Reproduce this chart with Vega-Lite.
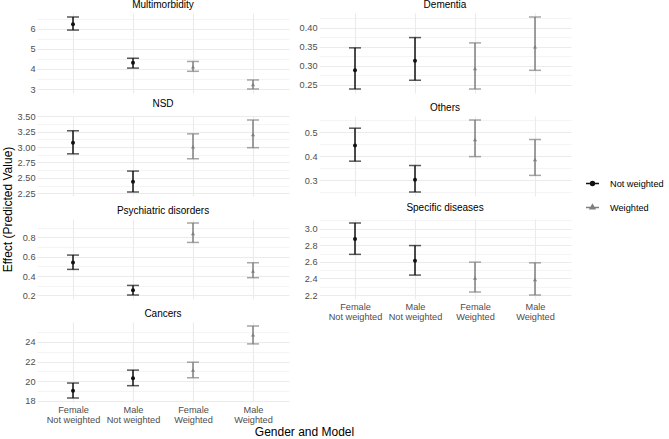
{
  "$schema": "https://vega.github.io/schema/vega-lite/v6.json",
  "padding": {"left": 1, "top": 0, "right": 4, "bottom": 2},
  "bounds": "flush",
  "columns": 2,
  "spacing": {"row": 23, "column": 30},
  "data": {"values": [
    {"panel": "Multimorbidity", "grp": "Female Not weighted", "model": "Not weighted", "est": 6.22, "lo": 5.93, "hi": 6.58},
    {"panel": "Multimorbidity", "grp": "Male Not weighted", "model": "Not weighted", "est": 4.3, "lo": 4.04, "hi": 4.53},
    {"panel": "Multimorbidity", "grp": "Female Weighted", "model": "Weighted", "est": 4.1, "lo": 3.88, "hi": 4.37},
    {"panel": "Multimorbidity", "grp": "Male Weighted", "model": "Weighted", "est": 3.22, "lo": 3.0, "hi": 3.45},
    {"panel": "Dementia", "grp": "Female Not weighted", "model": "Not weighted", "est": 0.288, "lo": 0.239, "hi": 0.347},
    {"panel": "Dementia", "grp": "Male Not weighted", "model": "Not weighted", "est": 0.313, "lo": 0.262, "hi": 0.374},
    {"panel": "Dementia", "grp": "Female Weighted", "model": "Weighted", "est": 0.293, "lo": 0.239, "hi": 0.36},
    {"panel": "Dementia", "grp": "Male Weighted", "model": "Weighted", "est": 0.35, "lo": 0.288, "hi": 0.428},
    {"panel": "NSD", "grp": "Female Not weighted", "model": "Not weighted", "est": 3.07, "lo": 2.89, "hi": 3.265},
    {"panel": "NSD", "grp": "Male Not weighted", "model": "Not weighted", "est": 2.435, "lo": 2.27, "hi": 2.61},
    {"panel": "NSD", "grp": "Female Weighted", "model": "Weighted", "est": 3.005, "lo": 2.81, "hi": 3.215},
    {"panel": "NSD", "grp": "Male Weighted", "model": "Weighted", "est": 3.205, "lo": 2.99, "hi": 3.44},
    {"panel": "Others", "grp": "Female Not weighted", "model": "Not weighted", "est": 0.444, "lo": 0.379, "hi": 0.516},
    {"panel": "Others", "grp": "Male Not weighted", "model": "Not weighted", "est": 0.302, "lo": 0.251, "hi": 0.361},
    {"panel": "Others", "grp": "Female Weighted", "model": "Weighted", "est": 0.469, "lo": 0.398, "hi": 0.55},
    {"panel": "Others", "grp": "Male Weighted", "model": "Weighted", "est": 0.386, "lo": 0.32, "hi": 0.469},
    {"panel": "Psychiatric disorders", "grp": "Female Not weighted", "model": "Not weighted", "est": 0.541, "lo": 0.469, "hi": 0.617},
    {"panel": "Psychiatric disorders", "grp": "Male Not weighted", "model": "Not weighted", "est": 0.252, "lo": 0.204, "hi": 0.303},
    {"panel": "Psychiatric disorders", "grp": "Female Weighted", "model": "Weighted", "est": 0.841, "lo": 0.748, "hi": 0.949},
    {"panel": "Psychiatric disorders", "grp": "Male Weighted", "model": "Weighted", "est": 0.452, "lo": 0.383, "hi": 0.538},
    {"panel": "Specific diseases", "grp": "Female Not weighted", "model": "Not weighted", "est": 2.876, "lo": 2.69, "hi": 3.068},
    {"panel": "Specific diseases", "grp": "Male Not weighted", "model": "Not weighted", "est": 2.612, "lo": 2.44, "hi": 2.796},
    {"panel": "Specific diseases", "grp": "Female Weighted", "model": "Weighted", "est": 2.404, "lo": 2.236, "hi": 2.596},
    {"panel": "Specific diseases", "grp": "Male Weighted", "model": "Weighted", "est": 2.388, "lo": 2.2, "hi": 2.588},
    {"panel": "Cancers", "grp": "Female Not weighted", "model": "Not weighted", "est": 19.02, "lo": 18.27, "hi": 19.8},
    {"panel": "Cancers", "grp": "Male Not weighted", "model": "Not weighted", "est": 20.3, "lo": 19.53, "hi": 21.12},
    {"panel": "Cancers", "grp": "Female Weighted", "model": "Weighted", "est": 21.12, "lo": 20.34, "hi": 21.93},
    {"panel": "Cancers", "grp": "Male Weighted", "model": "Weighted", "est": 24.74, "lo": 23.8, "hi": 25.63}
  ]},
  "concat": [
    {
      "title": "Multimorbidity", "width": 252, "height": 80,
      "transform": [{"filter": "datum.panel === 'Multimorbidity'"}],
      "encoding": {"x": {"field": "grp", "type": "nominal", "sort": ["Female Not weighted", "Male Not weighted", "Female Weighted", "Male Weighted"], "scale": {"type": "point", "padding": 0.6}, "axis": {"title": null, "labels": false, "grid": true, "gridWidth": 1.1}}},
      "layer": [
        {"mark": {"type": "errorbar", "ticks": {"size": 12}, "thickness": 1.5},
         "encoding": {"y": {"field": "lo", "type": "quantitative", "scale": {"zero": false, "nice": false, "padding": 4}, "axis": {"title": null, "tickCount": 100, "values": [3, 3.5, 4, 4.5, 5, 5.5, 6, 6.5], "labelExpr": "abs(datum.value - round(datum.value)) < 0.001 ? format(datum.value, '.0f') : ''", "gridWidth": {"condition": {"test": "abs(datum.value - round(datum.value)) < 0.001", "value": 1.1}, "value": 0.55}}}, "y2": {"field": "hi"},
           "color": {"field": "model", "type": "nominal", "title": null, "scale": {"domain": ["Not weighted", "Weighted"], "range": ["#111111", "#7f7f7f"]},
             "legend": {"title": null, "orient": "none", "legendX": 548, "legendY": 163, "encode": {"symbols": {"update": {"shape": {"signal": "datum.value === 'Weighted' ? 'M-1,0H1M0,-0.42L0.36,0.21L-0.36,0.21Z' : 'M-1,0H1M0.3,0A0.3,0.3 0 1 1 -0.3,0A0.3,0.3 0 1 1 0.3,0Z'"}}}}}}}},
        {"mark": {"type": "point", "filled": true, "size": 16, "opacity": 1},
         "encoding": {"y": {"field": "est", "type": "quantitative", "axis": {"title": null}}, "color": {"field": "model", "type": "nominal"}, "shape": {"condition": {"test": "datum.model === 'Weighted'", "value": "triangle-up"}, "value": "circle"}}}
      ]
    },
    {
      "title": "Dementia", "width": 252, "height": 80,
      "transform": [{"filter": "datum.panel === 'Dementia'"}],
      "encoding": {"x": {"field": "grp", "type": "nominal", "sort": ["Female Not weighted", "Male Not weighted", "Female Weighted", "Male Weighted"], "scale": {"type": "point", "padding": 0.6}, "axis": {"title": null, "labels": false, "grid": true, "gridWidth": 1.1}}},
      "layer": [
        {"mark": {"type": "errorbar", "ticks": {"size": 12}, "thickness": 1.5},
         "encoding": {"y": {"field": "lo", "type": "quantitative", "scale": {"zero": false, "nice": false, "padding": 4}, "axis": {"title": null, "tickCount": 100, "values": [0.25, 0.275, 0.3, 0.325, 0.35, 0.375, 0.4, 0.425], "labelExpr": "abs(datum.value/0.05 - round(datum.value/0.05)) < 0.001 ? format(datum.value, '.2f') : ''", "gridWidth": {"condition": {"test": "abs(datum.value/0.05 - round(datum.value/0.05)) < 0.001", "value": 1.1}, "value": 0.55}}}, "y2": {"field": "hi"},
           "color": {"field": "model", "type": "nominal"}}},
        {"mark": {"type": "point", "filled": true, "size": 16, "opacity": 1},
         "encoding": {"y": {"field": "est", "type": "quantitative", "axis": {"title": null}}, "color": {"field": "model", "type": "nominal"}, "shape": {"condition": {"test": "datum.model === 'Weighted'", "value": "triangle-up"}, "value": "circle"}}}
      ]
    },
    {
      "title": "NSD", "width": 252, "height": 80,
      "transform": [{"filter": "datum.panel === 'NSD'"}],
      "encoding": {"x": {"field": "grp", "type": "nominal", "sort": ["Female Not weighted", "Male Not weighted", "Female Weighted", "Male Weighted"], "scale": {"type": "point", "padding": 0.6}, "axis": {"title": null, "labels": false, "grid": true, "gridWidth": 1.1}}},
      "layer": [
        {"mark": {"type": "errorbar", "ticks": {"size": 12}, "thickness": 1.5},
         "encoding": {"y": {"field": "lo", "type": "quantitative", "scale": {"zero": false, "nice": false, "padding": 4}, "axis": {"title": "Effect (Predicted Value)", "titleFontSize": 12, "titleFontWeight": "normal", "titleColor": "black", "titleY": 93, "titlePadding": 3, "tickCount": 100, "values": [2.25, 2.375, 2.5, 2.625, 2.75, 2.875, 3, 3.125, 3.25, 3.375, 3.5], "labelExpr": "abs(datum.value/0.25 - round(datum.value/0.25)) < 0.001 ? format(datum.value, '.2f') : ''", "gridWidth": {"condition": {"test": "abs(datum.value/0.25 - round(datum.value/0.25)) < 0.001", "value": 1.1}, "value": 0.55}}}, "y2": {"field": "hi"},
           "color": {"field": "model", "type": "nominal"}}},
        {"mark": {"type": "point", "filled": true, "size": 16, "opacity": 1},
         "encoding": {"y": {"field": "est", "type": "quantitative"}, "color": {"field": "model", "type": "nominal"}, "shape": {"condition": {"test": "datum.model === 'Weighted'", "value": "triangle-up"}, "value": "circle"}}}
      ]
    },
    {
      "title": "Others", "width": 252, "height": 80,
      "transform": [{"filter": "datum.panel === 'Others'"}],
      "encoding": {"x": {"field": "grp", "type": "nominal", "sort": ["Female Not weighted", "Male Not weighted", "Female Weighted", "Male Weighted"], "scale": {"type": "point", "padding": 0.6}, "axis": {"title": null, "labels": false, "grid": true, "gridWidth": 1.1}}},
      "layer": [
        {"mark": {"type": "errorbar", "ticks": {"size": 12}, "thickness": 1.5},
         "encoding": {"y": {"field": "lo", "type": "quantitative", "scale": {"zero": false, "nice": false, "padding": 4}, "axis": {"title": null, "tickCount": 100, "values": [0.25, 0.3, 0.35, 0.4, 0.45, 0.5, 0.55], "labelExpr": "abs(datum.value/0.1 - round(datum.value/0.1)) < 0.001 ? format(datum.value, '.1f') : ''", "gridWidth": {"condition": {"test": "abs(datum.value/0.1 - round(datum.value/0.1)) < 0.001", "value": 1.1}, "value": 0.55}}}, "y2": {"field": "hi"},
           "color": {"field": "model", "type": "nominal"}}},
        {"mark": {"type": "point", "filled": true, "size": 16, "opacity": 1},
         "encoding": {"y": {"field": "est", "type": "quantitative", "axis": {"title": null}}, "color": {"field": "model", "type": "nominal"}, "shape": {"condition": {"test": "datum.model === 'Weighted'", "value": "triangle-up"}, "value": "circle"}}}
      ]
    },
    {
      "title": "Psychiatric disorders", "width": 252, "height": 80,
      "transform": [{"filter": "datum.panel === 'Psychiatric disorders'"}],
      "encoding": {"x": {"field": "grp", "type": "nominal", "sort": ["Female Not weighted", "Male Not weighted", "Female Weighted", "Male Weighted"], "scale": {"type": "point", "padding": 0.6}, "axis": {"title": null, "labels": false, "grid": true, "gridWidth": 1.1}}},
      "layer": [
        {"mark": {"type": "errorbar", "ticks": {"size": 12}, "thickness": 1.5},
         "encoding": {"y": {"field": "lo", "type": "quantitative", "scale": {"zero": false, "nice": false, "padding": 4}, "axis": {"title": null, "tickCount": 100, "values": [0.2, 0.3, 0.4, 0.5, 0.6, 0.7, 0.8, 0.9], "labelExpr": "abs(datum.value/0.2 - round(datum.value/0.2)) < 0.001 ? format(datum.value, '.1f') : ''", "gridWidth": {"condition": {"test": "abs(datum.value/0.2 - round(datum.value/0.2)) < 0.001", "value": 1.1}, "value": 0.55}}}, "y2": {"field": "hi"},
           "color": {"field": "model", "type": "nominal"}}},
        {"mark": {"type": "point", "filled": true, "size": 16, "opacity": 1},
         "encoding": {"y": {"field": "est", "type": "quantitative", "axis": {"title": null}}, "color": {"field": "model", "type": "nominal"}, "shape": {"condition": {"test": "datum.model === 'Weighted'", "value": "triangle-up"}, "value": "circle"}}}
      ]
    },
    {
      "title": "Specific diseases", "width": 252, "height": 80,
      "transform": [{"filter": "datum.panel === 'Specific diseases'"}],
      "encoding": {"x": {"field": "grp", "type": "nominal", "sort": ["Female Not weighted", "Male Not weighted", "Female Weighted", "Male Weighted"], "scale": {"type": "point", "padding": 0.6}, "axis": {"title": null, "labels": true, "labelAngle": 0, "labelExpr": "[slice(datum.label, 0, indexof(datum.label, ' ')), slice(datum.label, indexof(datum.label, ' ') + 1)]", "labelLineHeight": 10.5, "labelPadding": 3, "grid": true, "gridWidth": 1.1}}},
      "layer": [
        {"mark": {"type": "errorbar", "ticks": {"size": 12}, "thickness": 1.5},
         "encoding": {"y": {"field": "lo", "type": "quantitative", "scale": {"zero": false, "nice": false, "padding": 4}, "axis": {"title": null, "tickCount": 100, "values": [2.2, 2.3, 2.4, 2.5, 2.6, 2.7, 2.8, 2.9, 3.0, 3.1], "labelExpr": "abs(datum.value/0.2 - round(datum.value/0.2)) < 0.001 ? format(datum.value, '.1f') : ''", "gridWidth": {"condition": {"test": "abs(datum.value/0.2 - round(datum.value/0.2)) < 0.001", "value": 1.1}, "value": 0.55}}}, "y2": {"field": "hi"},
           "color": {"field": "model", "type": "nominal"}}},
        {"mark": {"type": "point", "filled": true, "size": 16, "opacity": 1},
         "encoding": {"y": {"field": "est", "type": "quantitative", "axis": {"title": null}}, "color": {"field": "model", "type": "nominal"}, "shape": {"condition": {"test": "datum.model === 'Weighted'", "value": "triangle-up"}, "value": "circle"}}}
      ]
    },
    {
      "title": "Cancers", "width": 252, "height": 80,
      "transform": [{"filter": "datum.panel === 'Cancers'"}],
      "encoding": {"x": {"field": "grp", "type": "nominal", "sort": ["Female Not weighted", "Male Not weighted", "Female Weighted", "Male Weighted"], "scale": {"type": "point", "padding": 0.6}, "axis": {"title": "Gender and Model", "titleFontSize": 12, "titleFontWeight": "normal", "titleColor": "black", "titleX": 267, "titlePadding": 2, "labels": true, "labelAngle": 0, "labelExpr": "[slice(datum.label, 0, indexof(datum.label, ' ')), slice(datum.label, indexof(datum.label, ' ') + 1)]", "labelLineHeight": 10.5, "labelPadding": 3, "grid": true, "gridWidth": 1.1}}},
      "layer": [
        {"mark": {"type": "errorbar", "ticks": {"size": 12}, "thickness": 1.5},
         "encoding": {"y": {"field": "lo", "type": "quantitative", "scale": {"zero": false, "nice": false, "padding": 4}, "axis": {"title": null, "tickCount": 100, "values": [18, 19, 20, 21, 22, 23, 24, 25], "labelExpr": "abs(datum.value/2 - round(datum.value/2)) < 0.001 ? format(datum.value, '.0f') : ''", "gridWidth": {"condition": {"test": "abs(datum.value/2 - round(datum.value/2)) < 0.001", "value": 1.1}, "value": 0.55}}}, "y2": {"field": "hi"},
           "color": {"field": "model", "type": "nominal"}}},
        {"mark": {"type": "point", "filled": true, "size": 16, "opacity": 1},
         "encoding": {"y": {"field": "est", "type": "quantitative", "axis": {"title": null}}, "color": {"field": "model", "type": "nominal"}, "shape": {"condition": {"test": "datum.model === 'Weighted'", "value": "triangle-up"}, "value": "circle"}}}
      ]
    }
  ],
  "config": {
    "font": "Liberation Sans",
    "view": {"stroke": null},
    "axis": {"domain": false, "ticks": false, "labelColor": "#4d4d4d", "labelFontSize": 9.2, "gridColor": "#ebebeb", "labelPadding": 2, "labelOverlap": false},
    "title": {"fontSize": 10, "fontWeight": "normal", "offset": 3, "color": "black", "anchor": "middle"},
    "legend": {
      "labelFontSize": 9.2, "labelColor": "black", "symbolSize": 169, "symbolStrokeWidth": 1.5, "rowPadding": 11, "labelOffset": 10, "symbolOpacity": 1
    }
  }
}
